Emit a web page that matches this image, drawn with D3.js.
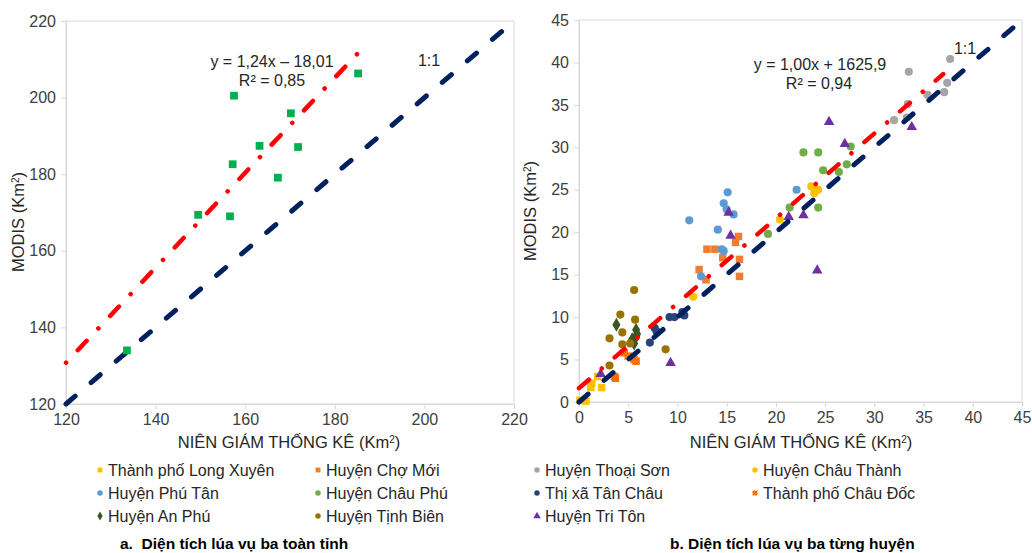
<!DOCTYPE html>
<meta charset="utf-8">
<html>
<body style="margin:0; background-color: white;">
<script src="https://d3js.org/d3.v7.min.js"></script>
<div id="chart"></div>
<script>
// ---- data: chart a (whole province) ----
var provX = [185.2, 157.5, 170.2, 163.2, 171.8, 157.2, 167.3, 149.5, 156.6, 133.6];
var provY = [206.3, 200.5, 195.9, 187.4, 187.1, 182.6, 179.1, 169.4, 169.0, 134.0];
var provTicks = [120, 140, 160, 180, 200, 220];

// ---- data: chart b (each district) [statistics, MODIS] ----
var longXuyen = [[0.1,0.2],[0.7,0.1],[1.2,1.7],[1.3,2.2],[1.9,3.0],[2.3,1.7]];
var choMoi = [[16.2,19.5],[15.9,18.8],[13.0,18.0],[13.8,18.0],[14.6,17.0],[16.3,16.8],[12.2,15.6],[12.9,14.4],[16.3,14.8]];
var thoaiSon = [[32.0,33.2],[33.3,33.5],[33.4,35.1],[33.5,38.9],[35.4,36.2],[37.1,36.5],[37.4,37.6],[37.7,40.4]];
var chauThanh = [[11.6,12.4],[20.4,21.5],[23.6,25.4],[23.9,24.6],[24.3,25.0]];
var phuTan = [[11.2,21.4],[12.4,14.8],[14.1,20.3],[14.5,18.0],[14.7,17.8],[14.7,23.4],[15.0,22.7],[15.1,24.7],[15.7,22.1],[22.1,25.0]];
var chauPhu = [[19.2,19.8],[21.4,22.9],[22.8,29.4],[24.3,29.4],[24.3,22.9],[24.8,27.3],[26.4,27.1],[27.2,28.0],[27.6,30.1]];
var tanChau = [[7.2,7.0],[7.7,8.7],[7.9,8.3],[9.2,10.0],[9.7,10.0],[10.5,10.6],[10.7,10.2]];
var chauDoc = [[3.6,3.0],[3.7,2.8],[4.6,5.8],[5.0,5.4],[5.6,5.0],[5.8,4.8]];
var anPhu = [[3.8,9.1],[5.4,7.4],[5.6,6.9],[5.8,7.7],[5.8,8.5],[5.9,8.0]];
var tinhBien = [[3.1,4.3],[3.1,7.5],[4.2,10.3],[4.4,8.2],[4.4,6.8],[5.2,6.9],[5.6,13.2],[5.7,9.7],[8.8,6.2]];
var triTon = [[2.2,3.3],[9.3,4.6],[15.2,22.3],[15.4,19.6],[21.3,21.8],[22.8,22.0],[24.2,15.5],[25.4,33.0],[27.0,30.4],[33.8,32.4]];
var distTicks = [0, 5, 10, 15, 20, 25, 30, 35, 40, 45];

var seriesNames = ["Thành phố Long Xuyên", "Huyện Chợ Mới", "Huyện Thoại Sơn", "Huyện Châu Thành",
                   "Huyện Phú Tân", "Huyện Châu Phú", "Thị xã Tân Châu", "Thành phố Châu Đốc",
                   "Huyện An Phú", "Huyện Tịnh Biên", "Huyện Tri Tôn"];
var seriesData = [longXuyen, choMoi, thoaiSon, chauThanh, phuTan, chauPhu, tanChau, chauDoc, anPhu, tinhBien, triTon];
var seriesColors = ["#FFC000", "#ED7D31", "#A5A5A5", "#FFC000", "#5B9BD5", "#70AD47", "#264478", "url(#checker)", "#375623", "#997300", "#7030A0"];
var seriesShapes = ["square", "square", "circle", "circle", "circle", "circle", "circle", "square", "diamond", "circle", "triangle"];

var W = 1032, H = 553;
var font = "'Liberation Sans', Arial, sans-serif";
var svg = d3.select("#chart").append("svg")
  .attr("width", W).attr("height", H)
  .style("font-family", font);

var defs = svg.append("defs");
var pat = defs.append("pattern").attr("id", "checker")
  .attr("width", 3).attr("height", 3).attr("patternUnits", "userSpaceOnUse");
pat.append("rect").attr("width", 3).attr("height", 3).attr("fill", "#FF2000");
pat.append("rect").attr("width", 1.5).attr("height", 1.5).attr("fill", "#FFC000");
pat.append("rect").attr("x", 1.5).attr("y", 1.5).attr("width", 1.5).attr("height", 1.5).attr("fill", "#FFC000");

function symbolOf(shape, size) {
  var t = shape == "square" ? d3.symbolSquare : shape == "diamond" ? d3.symbolDiamond
        : shape == "triangle" ? d3.symbolTriangle : d3.symbolCircle;
  return d3.symbol().type(t).size(size)();
}

// draws a frame, axes and titles; returns scales
function makePanel(x0, x1, y0, y1, domain, ticks) {
  var x = d3.scaleLinear().domain(domain).range([x0, x1]);
  var y = d3.scaleLinear().domain(domain).range([y0, y1]);
  var g = svg.append("g");
  g.append("rect")
    .attr("x", x0).attr("y", y1).attr("width", x1 - x0).attr("height", y0 - y1)
    .attr("fill", "none").attr("stroke", "#D9D9D9").attr("stroke-width", 1);
  var xa = g.append("g").attr("transform", "translate(0," + y0 + ")")
    .call(d3.axisBottom(x).tickValues(ticks).tickSize(5).tickPadding(5));
  var ya = g.append("g").attr("transform", "translate(" + x0 + ",0)")
    .call(d3.axisLeft(y).tickValues(ticks).tickSize(5).tickPadding(5));
  [xa, ya].forEach(function(a) {
    a.select(".domain").attr("stroke", "#D9D9D9");
    a.selectAll(".tick line").attr("stroke", "#D9D9D9");
    a.selectAll(".tick text").attr("fill", "#404040").style("font-size", "16px").style("font-family", font);
  });
  return {x: x, y: y, g: g};
}

function km2(sel, txt) {
  sel.append("tspan").text(txt + " (Km");
  sel.append("tspan").text("2").attr("baseline-shift", "super").style("font-size", "10px");
  sel.append("tspan").text(")");
}

function axisTitles(cxX, cyY, xY, yX) {
  var t1 = svg.append("text").attr("x", cxX).attr("y", xY).attr("text-anchor", "middle")
    .attr("fill", "#262626").style("font-size", "16.5px");
  km2(t1, "NIÊN GIÁM THỐNG KÊ");
  var t2 = svg.append("text").attr("transform", "translate(" + yX + "," + cyY + ") rotate(-90)")
    .attr("text-anchor", "middle").attr("fill", "#262626").style("font-size", "16.5px");
  km2(t2, "MODIS");
}

var line = function(p) {
  return d3.line().x(function(d) { return p.x(d[0]); }).y(function(d) { return p.y(d[1]); });
};

function label(g, x, y, txt) {
  g.append("text").attr("x", x).attr("y", y).attr("text-anchor", "middle")
    .attr("fill", "#262626").style("font-size", "16px").text(txt);
}

// ---------- panel a ----------
var A = makePanel(66, 514, 404, 21, [120, 220], provTicks);
axisTitles(289, 222, 448, 24);
A.g.append("path").datum([[120, 120], [218.5, 218.5]])
  .attr("d", line(A)).attr("fill", "none").attr("stroke", "#002060")
  .attr("stroke-width", 5).attr("stroke-linecap", "round").attr("stroke-dasharray", "12,21");
A.g.append("path").datum([[120, 1.24 * 120 - 18.01], [185.5, 1.24 * 185.5 - 18.01]])
  .attr("d", line(A)).attr("fill", "none").attr("stroke", "#FF0000")
  .attr("stroke-width", 4.5).attr("stroke-linecap", "round").attr("stroke-dasharray", "0.1,17,13,17");
A.g.selectAll("path.pt").data(provX).enter().append("path")
  .attr("transform", function(d, i) { return "translate(" + A.x(d) + "," + A.y(provY[i]) + ")"; })
  .attr("d", symbolOf("square", 60)).attr("fill", "#00B050");
label(A.g, 272, 67, "y = 1,24x – 18,01");
label(A.g, 272, 86, "R² = 0,85");
label(A.g, 429, 66, "1:1");

// ---------- panel b ----------
var B = makePanel(579, 1022, 402, 20, [0, 45], distTicks);
axisTitles(801, 211, 448, 536);
seriesData.forEach(function(s, k) {
  B.g.selectAll("path.s" + k).data(s).enter().append("path")
    .attr("transform", function(d) { return "translate(" + B.x(d[0]) + "," + B.y(d[1]) + ")"; })
    .attr("d", symbolOf(seriesShapes[k], seriesShapes[k] == "circle" ? 52 : seriesShapes[k] == "triangle" ? 48 : 56))
    .attr("fill", seriesColors[k]);
});
B.g.append("path").datum([[0, 0], [45, 45]])
  .attr("d", line(B)).attr("fill", "none").attr("stroke", "#002060")
  .attr("stroke-width", 5).attr("stroke-linecap", "round").attr("stroke-dasharray", "12,21");
B.g.append("path").datum([[0, 1.63], [37, 38.63]])
  .attr("d", line(B)).attr("fill", "none").attr("stroke", "#FF0000")
  .attr("stroke-width", 4.5).attr("stroke-linecap", "round").attr("stroke-dasharray", "13,17,0.1,17");
label(B.g, 820, 70, "y = 1,00x + 1625,9");
label(B.g, 819, 89, "R² = 0,94");
label(B.g, 965, 54, "1:1");

// ---------- legend ----------
var colX = [100, 318, 537, 755], rowY = [470, 493, 516];
var leg = svg.append("g");
seriesNames.forEach(function(n, k) {
  var cx = colX[k % 4], cy = rowY[Math.floor(k / 4)];
  leg.append("path").attr("transform", "translate(" + cx + "," + cy + ")")
    .attr("d", symbolOf(seriesShapes[k], 24)).attr("fill", seriesColors[k]);
  leg.append("text").attr("x", cx + 8).attr("y", cy + 6).attr("fill", "#262626")
    .style("font-size", "16px").text(n);
});

svg.append("text").attr("x", 120).attr("y", 549).attr("fill", "#000")
  .style("font-size", "15.5px").style("font-weight", "bold").attr("xml:space", "preserve")
  .text("a.  Diện tích lúa vụ ba toàn tỉnh");
svg.append("text").attr("x", 670).attr("y", 549).attr("fill", "#000")
  .style("font-size", "15.5px").style("font-weight", "bold")
  .text("b. Diện tích lúa vụ ba từng huyện");
</script>
</body>
</html>
